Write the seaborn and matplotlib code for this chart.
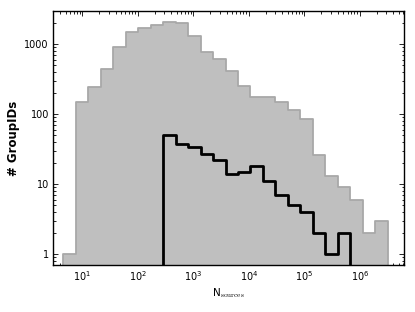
import numpy as np
import pandas as pd
import matplotlib
matplotlib.use("Agg")
import matplotlib.pyplot as plt
import matplotlib.ticker as ticker
import seaborn as sns

# conteos por bin (bins logaritmicos, 26 bins)
all_counts = [1, 147, 243, 444, 915, 1484, 1675, 1888, 2062, 1995, 1315, 761, 611,
              415, 251, 177, 177, 147, 114, 84, 26, 13, 9, 6, 2, 3]
sub_counts = [0, 0, 0, 0, 0, 0, 0, 0, 50, 37, 34, 27, 22,
              14, 15, 18, 11, 7, 5, 4, 2, 1, 2, 0, 0, 0]
log_edge_lo = 0.658
log_edge_hi = 6.503
xticks = [1e1, 1e2, 1e3, 1e4, 1e5, 1e6]
yticks = [1, 10, 100, 1000]

sns.set_style("ticks")
plt.rcParams['font.family'] = ['DejaVu Sans']
plt.rcParams['mathtext.fontset'] = 'cm'

edges = np.linspace(log_edge_lo, log_edge_hi, len(all_counts) + 1)
df = pd.DataFrame({"n": 10 ** ((edges[:-1] + edges[1:]) / 2),
                   "all": all_counts, "sub": sub_counts})

fig, ax = plt.subplots(figsize=(4.15, 3.12), dpi=100)
fig.subplots_adjust(left=0.1277, right=0.9735, bottom=0.1506, top=0.9647)

# histograma gris de fondo
sns.histplot(data=df, x="n", weights="all", bins=list(edges), log_scale=True,
             element="step", fill=True, color="#bfbfbf", alpha=1,
             edgecolor="#a8a8a8", linewidth=1.3, ax=ax)
# histograma negro
sns.histplot(data=df, x="n", weights="sub", bins=list(edges), log_scale=True,
             element="step", fill=False, color="black", linewidth=2, ax=ax)

ax.set_yscale("log")
ax.set_xlim(10 ** 0.472, 10 ** 6.796)
ax.set_ylim(0.696, 2960)

ax.xaxis.set_major_locator(ticker.FixedLocator(xticks))
ax.xaxis.set_major_formatter(ticker.LogFormatterSciNotation())
ax.yaxis.set_major_locator(ticker.FixedLocator(yticks))
ax.yaxis.set_major_formatter(ticker.FuncFormatter(lambda v, p: "%d" % v))
ax.yaxis.set_minor_locator(ticker.LogLocator(subs=np.arange(2, 10)))
ax.xaxis.set_minor_locator(ticker.LogLocator(subs=np.arange(2, 10), numticks=20))
ax.xaxis.set_minor_formatter(ticker.NullFormatter())

ax.tick_params(which="both", direction="in", top=True, right=True,
               labelsize=7, color="black", labelcolor="black", width=0.6)
ax.tick_params(which="major", length=3.5, pad=3)
ax.tick_params(which="minor", length=1.8)
for s in ax.spines.values():
    s.set_color("black")
    s.set_linewidth(1)

ax.set_xlabel(r"N$_{\rm sources}$", fontsize=7.5, color="black", labelpad=2)
ax.set_ylabel("# GroupIDs", fontsize=8.5, fontweight="bold", color="black",
              labelpad=3)

fig.savefig("out.png", dpi=100)
